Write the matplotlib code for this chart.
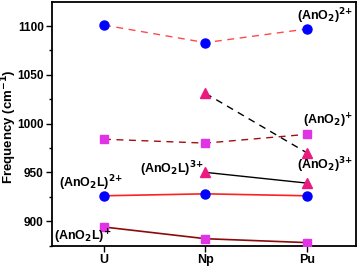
import matplotlib
matplotlib.use("Agg")
import matplotlib.pyplot as plt
from matplotlib.ticker import MultipleLocator

plt.rcParams['font.family'] = ['Liberation Sans', 'DejaVu Sans']
plt.rcParams['font.weight'] = 'bold'
plt.rcParams['mathtext.default'] = 'bf'

elements = ["U", "Np", "Pu"]
ano2_2p = [1101, 1083, 1097]
ano2_1p = [984, 980, 989]
ano2_3p_x = ["Np", "Pu"]
ano2_3p = [1031, 970]
ano2l_3p_x = ["Np", "Pu"]
ano2l_3p = [950, 939]
ano2l_2p = [926, 928, 926]
ano2l_1p = [894, 882, 878]

fig, ax = plt.subplots(figsize=(3.6, 2.68), dpi=100)
fig.subplots_adjust(left=0.145, right=0.988, top=0.992, bottom=0.082)

xi = {e: i for i, e in enumerate(elements)}
x3 = [xi[e] for e in elements]
x2 = [xi[e] for e in ano2_3p_x]
xl2 = [xi[e] for e in ano2l_3p_x]

blue = '#0000ff'
mag = '#e033e6'
pink = '#ea1a7f'
ms = 6.5
ax.plot(x3, ano2_2p, ls=(0, (5, 4)), color='#ff4a4a', lw=1.0, zorder=1)
ax.plot(x3, ano2_2p, 'o', color=blue, ms=ms, zorder=3)
ax.plot(x3, ano2_1p, ls=(0, (5, 4)), color='#a01010', lw=1.0, zorder=1)
ax.plot(x3, ano2_1p, 's', color=mag, ms=ms - 0.8, zorder=3)
ax.plot(x2, ano2_3p, ls=(0, (5, 4)), color='black', lw=1.0, zorder=1)
ax.plot(x2, ano2_3p, '^', color=pink, ms=ms, zorder=3)
ax.plot(xl2, ano2l_3p, '-', color='black', lw=1.0, zorder=1)
ax.plot(xl2, ano2l_3p, '^', color=pink, ms=ms, zorder=3)
ax.plot(x3, ano2l_2p, '-', color='#ff2020', lw=1.2, zorder=1)
ax.plot(x3, ano2l_2p, 'o', color=blue, ms=ms, zorder=3)
ax.plot(x3, ano2l_1p, '-', color='#8b0a0a', lw=1.2, zorder=1)
ax.plot(x3, ano2l_1p, 's', color=mag, ms=ms - 0.8, zorder=3)

ax.set_xlim(-0.51, 2.48)
ax.set_ylim(874.5, 1124.5)
ax.set_xticks(x3)
ax.set_xticklabels(elements)
ax.yaxis.set_major_locator(MultipleLocator(50))
ax.yaxis.set_minor_locator(MultipleLocator(25))
ax.set_ylabel('Frequency (cm$^{-1}$)', fontsize=9.5, fontweight='bold')
ax.yaxis.set_label_coords(-0.108, 0.49)
ax.tick_params(axis='both', which='major', labelsize=8.5, length=4, width=1, direction='out', pad=2)
ax.tick_params(axis='x', which='major', labelsize=9)
ax.tick_params(axis='y', which='minor', length=2.5, width=1)
for s in ax.spines.values():
    s.set_linewidth(1.3)

fs = 9
ax.text(2.45, 1110, '(AnO$_2$)$^{2{+}}$', fontsize=fs, ha='right', va='center')
ax.text(2.45, 1003, '(AnO$_2$)$^{{+}}$', fontsize=fs, ha='right', va='center')
ax.text(2.45, 957, '(AnO$_2$)$^{3{+}}$', fontsize=fs, ha='right', va='center')
ax.text(0.985, 953, '(AnO$_2$L)$^{3{+}}$', fontsize=fs, ha='right', va='center')
ax.text(-0.44, 939, '(AnO$_2$L)$^{2{+}}$', fontsize=fs, ha='left', va='center')
ax.text(-0.49, 884, '(AnO$_2$L)$^{{+}}$', fontsize=fs, ha='left', va='center')

fig.savefig('out.png', dpi=100)
